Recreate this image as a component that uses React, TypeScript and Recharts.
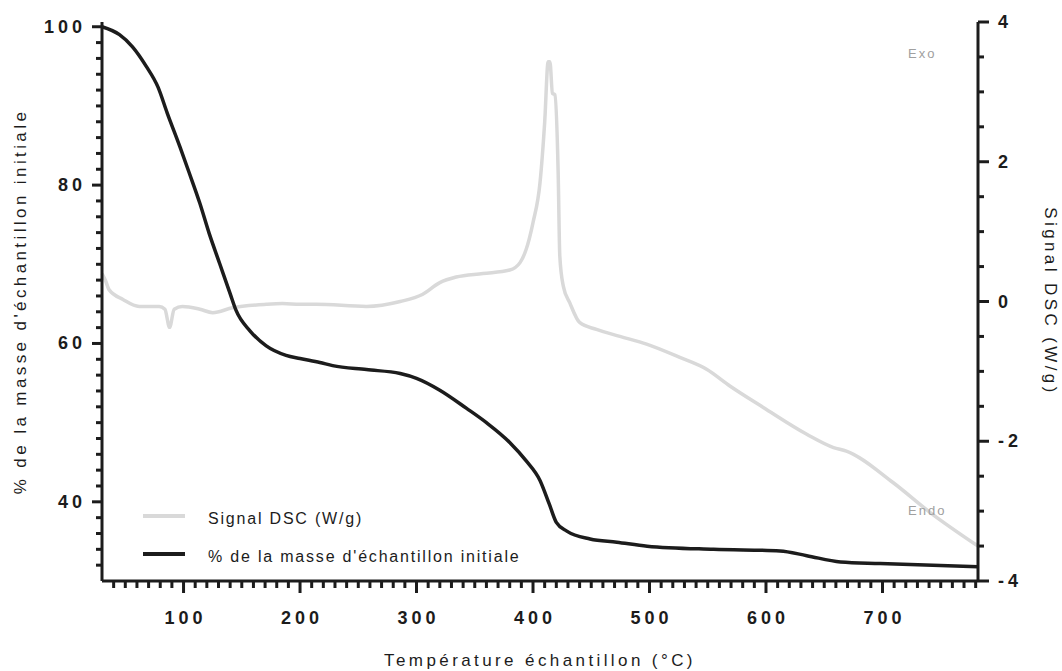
import React from 'react';
import { LineChart, Line, XAxis, YAxis, Legend } from 'recharts';

// TGA / DSC run
const massTemp = [30, 45, 56, 68, 78, 86, 97, 105, 114, 122, 131, 140, 145, 157, 171, 188, 200, 217, 228, 257, 286, 300, 320, 343, 360, 380, 394, 406, 414, 420, 429, 449, 472, 498, 555, 612, 635, 664, 698, 782];
const massPct = [100, 99, 97.5, 95, 92.4, 89.1, 84.8, 81.5, 77.7, 73.9, 70.1, 66.3, 64.2, 61.6, 59.7, 58.5, 58.1, 57.6, 57.2, 56.7, 56.2, 55.6, 54.1, 51.8, 50.0, 47.5, 45.2, 42.7, 39.7, 37.4, 36.3, 35.3, 34.9, 34.4, 34.0, 33.8, 33.2, 32.4, 32.2, 31.8];

const dscTemp = [30, 33, 36, 48, 62, 79, 84, 88, 92, 99, 114, 125, 142, 171, 185, 200, 214, 257, 286, 305, 320, 334, 357, 380, 389, 394, 400, 406, 410, 413, 414.5, 416.7, 418.7, 421.6, 423, 426, 431.6, 440, 454.5, 474.6, 497.5, 526, 549, 569, 598, 635, 658, 669, 709, 741, 782];
const dscSignal = [0.4, 0.3, 0.17, 0.03, -0.07, -0.07, -0.11, -0.37, -0.11, -0.07, -0.11, -0.16, -0.09, -0.04, -0.03, -0.04, -0.04, -0.07, 0, 0.1, 0.27, 0.35, 0.4, 0.45, 0.56, 0.74, 1.13, 1.7, 2.56, 3.43, 3.43, 2.98, 2.96, 1.84, 0.65, 0.22, -0.02, -0.3, -0.4, -0.5, -0.61, -0.8, -0.97, -1.21, -1.52, -1.9, -2.09, -2.14, -2.59, -3.02, -3.5];

const xMajor = [100, 200, 300, 400, 500, 600, 700];
const leftMajor = [40, 60, 80, 100];
const rightMajor = [-4, -2, 0, 2, 4];
const legendOrder = ['Signal DSC (W/g)', "% de la masse d'échantillon initiale"];

const steps = (from: number, to: number, step: number) => {
    const out: number[] = [];
    for (let v = from; v <= to + 1e-9; v += step) out.push(Math.round(v * 10) / 10);
    return out;
};
const xTicks = steps(40, 780, 10);
const leftTicks = steps(32, 100, 2);
const rightTicks = steps(-4, 4, 0.5);

const massData = massTemp.map((t, i) => ({ t, mass: massPct[i] }));
const dscData = dscTemp.map((t, i) => ({ t, dsc: dscSignal[i] }));

const INK = '#1c1c1c';
const LIGHT = '#d9d9d9';
const FONT = '"Liberation Sans", Arial, sans-serif';

const XTick = ({ x, y, payload }: any) => {
    const major = xMajor.includes(payload.value);
    return (
        <g>
            <line x1={x} x2={x} y1={y} y2={y + (major ? 12 : 7)} stroke={INK} strokeWidth={3} />
            {major && (
                <text x={x + 2} y={y + 37} textAnchor="middle" dominantBaseline="central"
                    fontFamily={FONT} fontWeight={700} fontSize={18} letterSpacing={4} fill={INK}>
                    {payload.value}
                </text>
            )}
        </g>
    );
};

const LeftTick = ({ x, y, payload }: any) => {
    const major = leftMajor.includes(payload.value);
    return (
        <g>
            <line x1={x} x2={x - (major ? 10 : 6)} y1={y} y2={y} stroke={INK} strokeWidth={3} />
            {major && (
                <text x={x - 16} y={y} textAnchor="end" dominantBaseline="central"
                    fontFamily={FONT} fontWeight={700} fontSize={18} letterSpacing={4} fill={INK}>
                    {payload.value}
                </text>
            )}
        </g>
    );
};

const RightTick = ({ x, y, payload }: any) => {
    const major = rightMajor.includes(payload.value);
    return (
        <g>
            <line x1={x} x2={x + (major ? 11 : 6)} y1={y} y2={y} stroke={INK} strokeWidth={3} />
            {major && (
                <text x={x + 20} y={y} textAnchor="start" dominantBaseline="central"
                    fontFamily={FONT} fontWeight={700} fontSize={18} letterSpacing={4} fill={INK}>
                    {payload.value}
                </text>
            )}
        </g>
    );
};

const titleStyle = { fontFamily: FONT, fontSize: 17, letterSpacing: 3.4, fill: INK };

const LeftTitle = ({ viewBox }: any) => {
    const cx = 20;
    const cy = viewBox.y + viewBox.height / 2;
    return (
        <text x={cx} y={cy} transform={`rotate(-90 ${cx} ${cy})`} textAnchor="middle" dominantBaseline="central" {...titleStyle}>
            % de la masse d'échantillon initiale
        </text>
    );
};

const RightTitle = ({ viewBox }: any) => {
    const cx = viewBox.x + 72;
    const cy = viewBox.y + viewBox.height / 2;
    return (
        <text x={cx} y={cy} transform={`rotate(90 ${cx} ${cy})`} textAnchor="middle" dominantBaseline="central" {...titleStyle}>
            Signal DSC (W/g)
        </text>
    );
};

const BottomTitle = ({ viewBox }: any) => {
    const cx = viewBox.x + viewBox.width / 2;
    return (
        <text x={cx} y={viewBox.y + 79} textAnchor="middle" dominantBaseline="central" {...titleStyle}>
            Température échantillon (°C)
        </text>
    );
};

const LegendBox = ({ payload }: any) => {
    const items = [...(payload || [])].sort(
        (a: any, b: any) => legendOrder.indexOf(a.value) - legendOrder.indexOf(b.value)
    );
    return (
        <div style={{ fontFamily: FONT, fontSize: 16, letterSpacing: 1.8, color: INK }}>
            {items.map((entry: any) => (
                <div key={entry.value} style={{ display: 'flex', alignItems: 'center', height: 38 }}>
                    <div style={{ width: 42, height: 4, background: entry.color, marginRight: 23 }} />
                    <span style={{ position: 'relative', top: 3, whiteSpace: 'nowrap' }}>{entry.value}</span>
                </div>
            ))}
        </div>
    );
};

const noteStyle: React.CSSProperties = {
    position: 'absolute', fontFamily: FONT, fontSize: 13, letterSpacing: 2, color: '#a0a0a0', lineHeight: '14px'
};

export default function App() {
    // the chart uses the whole window, so drop the default body margin
    return (
        <div style={{ position: 'relative', width: 1062, height: 671 }}>
            <style>{'body { margin: 0; }'}</style>
            <LineChart width={1062} height={671} margin={{ top: 22, right: 0, bottom: 0, left: 0 }}>
                <XAxis
                    type="number"
                    dataKey="t"
                    domain={[30, 782]}
                    ticks={xTicks}
                    height={90}
                    tickSize={0}
                    tickMargin={0}
                    tick={<XTick />}
                    tickLine={false}
                    axisLine={{ stroke: INK, strokeWidth: 3 }}
                    interval={0}
                    label={<BottomTitle />}
                />
                <YAxis
                    yAxisId="mass"
                    type="number"
                    domain={[30, 100.6]}
                    ticks={leftTicks}
                    width={102}
                    tickSize={0}
                    tickMargin={0}
                    tick={<LeftTick />}
                    tickLine={false}
                    axisLine={{ stroke: INK, strokeWidth: 3 }}
                    interval={0}
                    label={<LeftTitle />}
                />
                <YAxis
                    yAxisId="dsc"
                    orientation="right"
                    type="number"
                    domain={[-4, 4]}
                    ticks={rightTicks}
                    width={84}
                    tickSize={0}
                    tickMargin={0}
                    tick={<RightTick />}
                    tickLine={false}
                    axisLine={{ stroke: INK, strokeWidth: 3 }}
                    interval={0}
                    label={<RightTitle />}
                />
                <Line
                    yAxisId="dsc"
                    data={dscData}
                    dataKey="dsc"
                    name="Signal DSC (W/g)"
                    type="monotone"
                    stroke={LIGHT}
                    strokeWidth={3.5}
                    dot={false}
                    activeDot={false}
                    isAnimationActive={false}
                />
                <Line
                    yAxisId="mass"
                    data={massData}
                    dataKey="mass"
                    name="% de la masse d'échantillon initiale"
                    type="monotone"
                    stroke={INK}
                    strokeWidth={3.5}
                    dot={false}
                    activeDot={false}
                    isAnimationActive={false}
                />
                <Legend
                    layout="horizontal"
                    verticalAlign="middle"
                    align="center"
                    content={<LegendBox />}
                    wrapperStyle={{ position: 'absolute', left: 143, top: 497, width: 'auto', height: 'auto', bottom: 'auto' }}
                />
            </LineChart>
            <div style={{ ...noteStyle, left: 908, top: 47 }}>Exo</div>
            <div style={{ ...noteStyle, left: 908, top: 504 }}>Endo</div>
        </div>
    );
}
